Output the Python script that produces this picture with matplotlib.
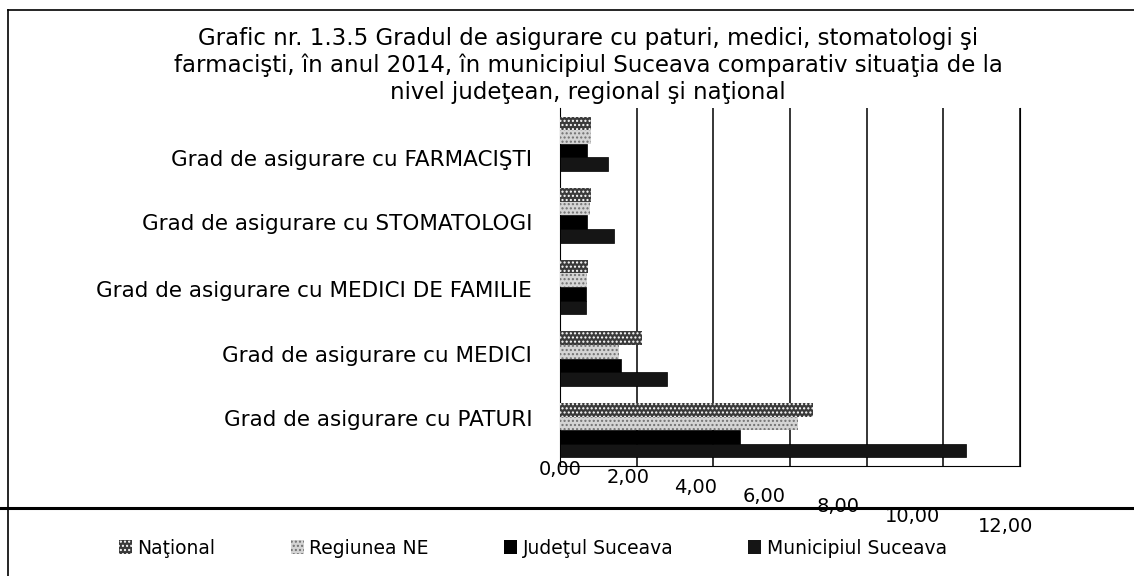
import numpy as np
import matplotlib
matplotlib.use("Agg")
import matplotlib.pyplot as plt
import matplotlib.transforms as mtransforms
from matplotlib.patches import Patch
from matplotlib.lines import Line2D

plt.rcParams['font.family'] = ['DejaVu Sans']

# Date, categoriile de jos in sus (ordinea din Excel)
categorii = ["Grad de asigurare cu PATURI",
             "Grad de asigurare cu MEDICI",
             "Grad de asigurare cu MEDICI DE FAMILIE",
             "Grad de asigurare cu STOMATOLOGI",
             "Grad de asigurare cu FARMACIŞTI"]
national = [6.6, 2.15, 0.72, 0.80, 0.82]
regiunea_ne = [6.2, 1.55, 0.70, 0.78, 0.80]
judetul = [4.7, 1.60, 0.68, 0.70, 0.70]
municipiul = [10.6, 2.80, 0.68, 1.40, 1.25]
serii = ["Naţional", "Regiunea NE", "Judeţul Suceava", "Municipiul Suceava"]
x_ticks = [0, 2, 4, 6, 8, 10, 12]
x_labels = ["0,00", "2,00", "4,00", "6,00", "8,00", "10,00", "12,00"]

titlu = ("Grafic nr. 1.3.5 Gradul de asigurare cu paturi, medici, stomatologi şi\n"
         "farmacişti, în anul 2014, în municipiul Suceava comparativ situaţia de la\n"
         "nivel judeţean, regional şi naţional")

W, H = 1134, 576
fig = plt.figure(figsize=(W / 100, H / 100), dpi=100)

x0, x1 = 560, 1020
y_top, y_bot = 108, 466
ax = fig.add_axes([x0 / W, 1 - y_bot / H, (x1 - x0) / W, (y_bot - y_top) / H])

stiluri = [
    dict(color="#3a3a3a", edgecolor="white", hatch="....", linewidth=0),
    dict(color="#d4d4d4", edgecolor="#707070", hatch="....", linewidth=0),
    dict(color="black", edgecolor="black", linewidth=0.5),
    dict(color="#151515", edgecolor="black", linewidth=0.5),
]
valori = [national, regiunea_ne, judetul, municipiul]

y = np.arange(len(categorii))
h = 0.19
offs = [1.5 * h, 0.5 * h, -0.5 * h, -1.5 * h]
for vals, st, off in zip(valori, stiluri, offs):
    ax.barh(y + off, vals, height=h, zorder=3, **st)

ax.set_xlim(0, 12)
ax.set_ylim(-0.5, len(categorii) - 0.5)
ax.set_xticks(x_ticks)
ax.set_xticklabels(x_labels, fontsize=14)
ax.set_yticks(y)
ax.set_yticklabels(categorii, fontsize=15.5)
ax.tick_params(axis="y", length=0, pad=20)
ax.tick_params(axis="x", length=0, pad=0)
ax.grid(axis="x", color="black", linewidth=1.1, zorder=0)
ax.spines["top"].set_visible(False)

# etichete in trepte, ca in perspectiva 3D
dx_x = [0, -9, -18, -26, -29, -31, -14]
dy_x = [-6, 2, 12, 21, 31, 41, 51]
for tick, dx, dy in zip(ax.xaxis.get_major_ticks(), dx_x, dy_x):
    tick.label1.set_transform(tick.label1.get_transform() +
                              mtransforms.ScaledTranslation(dx / 100, -dy / 100, fig.dpi_scale_trans))
dy_y = [12, 5, -2, -7, -14]
for tick, dy in zip(ax.yaxis.get_major_ticks(), dy_y):
    tick.label1.set_transform(tick.label1.get_transform() +
                              mtransforms.ScaledTranslation(0, dy / 100, fig.dpi_scale_trans))

fig.text(588 / W, 1 - 27 / H, titlu, ha="center", va="top", fontsize=16.5,
         linespacing=1.2)

handles = [Patch(facecolor=st["color"], edgecolor=st["edgecolor"],
                 hatch=st.get("hatch"), linewidth=0) for st in stiluri]
fig.legend(handles, serii, loc="center", bbox_to_anchor=(533 / W, 1 - 548 / H),
           ncol=4, frameon=False, fontsize=13.5, handlelength=0.7, handleheight=0.7,
           handletextpad=0.3, columnspacing=4.0)

# chenarul si linia orizontala din pagina scanata
fig.add_artist(Line2D([8 / W, 1], [1 - 10 / H, 1 - 10 / H], color="black", lw=1.2))
fig.add_artist(Line2D([8 / W, 8 / W], [0, 1 - 10 / H], color="black", lw=1.2))
fig.add_artist(Line2D([0, 1], [1 - 508 / H, 1 - 508 / H], color="black", lw=2.2))

fig.savefig("out.png", dpi=100)
